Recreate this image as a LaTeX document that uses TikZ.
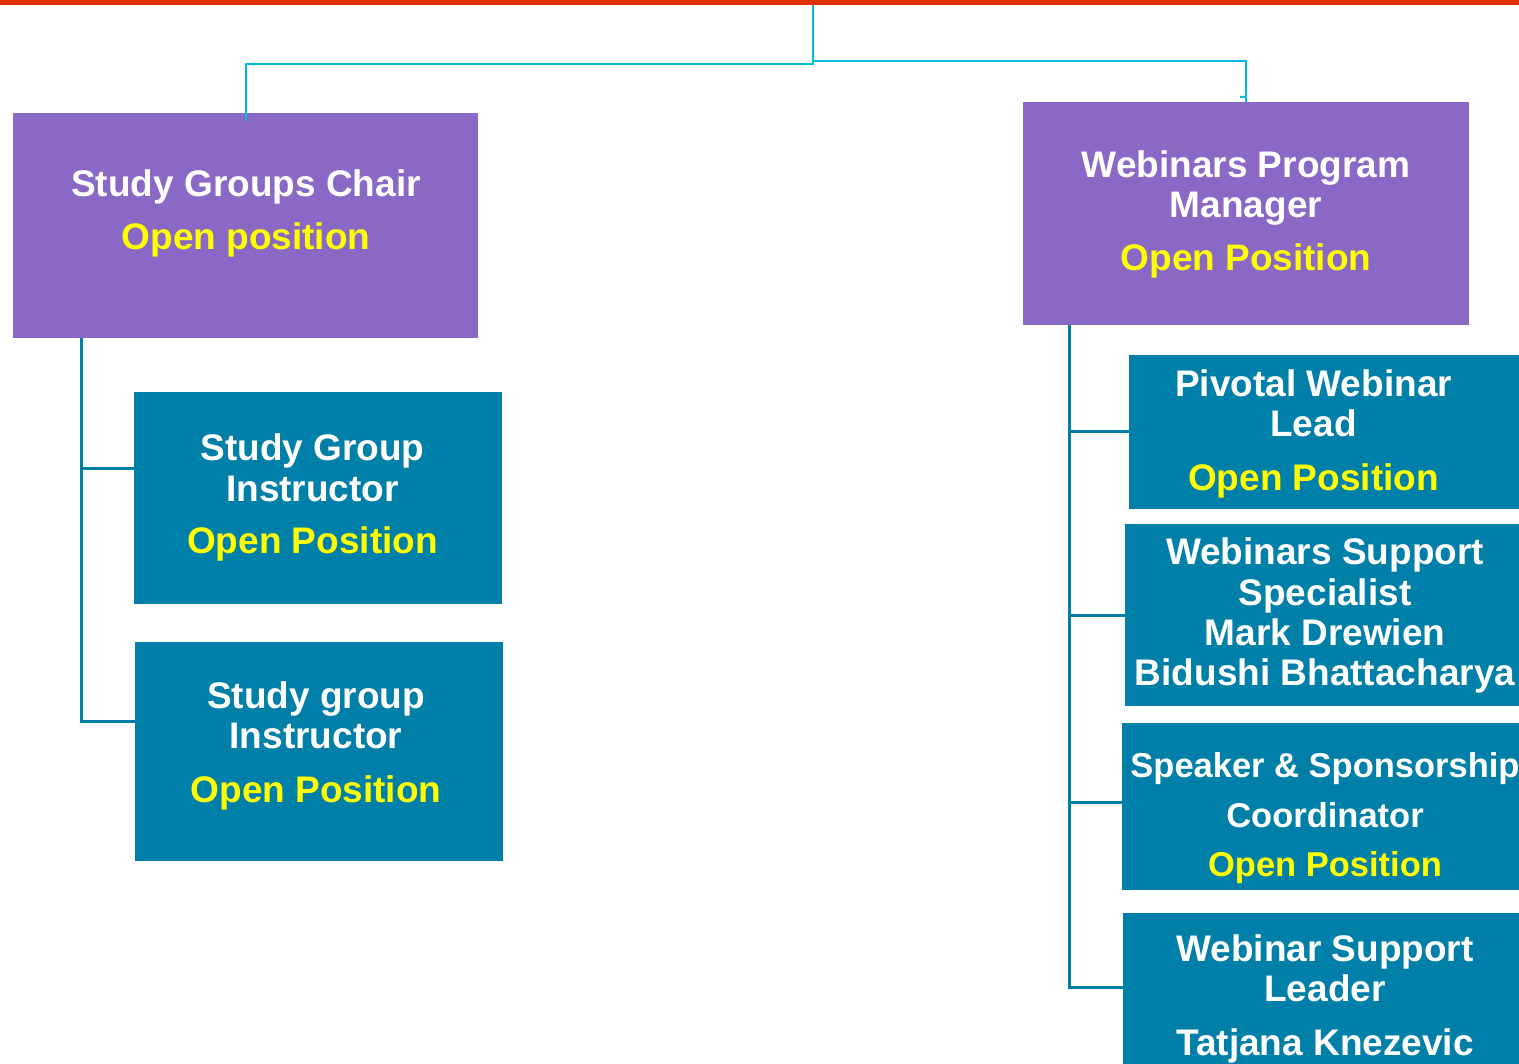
\documentclass[tikz,border=0pt]{standalone}
\usepackage{fontspec}
\setmainfont{Liberation Sans}
\definecolor{redbar}{HTML}{DE3108}
\definecolor{purp}{HTML}{8A68C5}
\definecolor{teal}{HTML}{0080A8}
\definecolor{cyanl}{HTML}{00BCDB}
\definecolor{openy}{HTML}{FFFF00}
\tikzset{
  pbox/.style={draw=none, fill=purp, inner sep=0pt, rectangle},
  tbox/.style={draw=none, fill=teal, inner sep=0pt, rectangle},
  ttl/.style={anchor=base, inner sep=0pt, text=white, font=\bfseries\fontsize{37}{40}\selectfont},
  ttls/.style={anchor=base, inner sep=0pt, text=white, font=\bfseries\fontsize{34.5}{40}\selectfont},
  opn/.style={anchor=base, inner sep=0pt, text=openy, font=\bfseries\fontsize{37}{40}\selectfont},
  opns/.style={anchor=base, inner sep=0pt, text=openy, font=\bfseries\fontsize{34.5}{40}\selectfont},
  cline/.style={draw=cyanl, line width=2pt},
  tline/.style={draw=teal, line width=3pt},
}
\begin{document}
\begin{tikzpicture}[x=1pt, y=-1pt]
\useasboundingbox (0,0) rectangle (1519,1064);
\clip (0,0) rectangle (1519,1064);
\fill[white] (0,0) rectangle (1519,1064);
% red bar
\fill[redbar] (0,0) rectangle (1519,5.5);

% coordinates
\coordinate (top) at (813,5);
\coordinate (lt) at (81,338);
\coordinate (rt) at (1069,325);

% boxes
\node[pbox, minimum width=465pt, minimum height=225pt] (sgc) at (245.5,225.5) {};
\node[pbox, minimum width=446pt, minimum height=223pt] (wpm) at (1246,213.5) {};
\node[tbox, minimum width=368pt, minimum height=212pt] (sgi1) at (318,498) {};
\node[tbox, minimum width=368pt, minimum height=219pt] (sgi2) at (319,751.5) {};
\node[tbox, minimum width=410pt, minimum height=154pt] (pwl) at (1334,432) {};
\node[tbox, minimum width=414pt, minimum height=182pt] (wss) at (1332,615) {};
\node[tbox, minimum width=418pt, minimum height=167pt] (ssc) at (1331,806.5) {};
\node[tbox, minimum width=418pt, minimum height=151pt] (wsl) at (1332,988.5) {};

% connectors
\draw[cline] (top) -- (813,64) -| ([yshift=-8pt]sgc.north);
\draw[cline] (top) -- (813,61) -| (wpm.north);
\draw[cline] (1240,97) -- ([yshift=5pt]wpm.north);
\draw[tline] (sgc.south -| lt) |- ([yshift=29pt]sgi1.west);
\draw[tline] (lt) |- ([yshift=30.5pt]sgi2.west);
\draw[tline] (wpm.south -| rt) |- (pwl.west);
\draw[tline] (rt) |- (wss.west);
\draw[tline] (rt) |- ([yshift=4.5pt]ssc.west);
\draw[tline] (rt) |- ([yshift=1.5pt]wsl.west);

% texts
\node[ttl] (sgcA) at (246,197) {Study Groups Chair};
\node[opn] (sgcB) at (246,250) {Open position};

\node[ttl] (wpmA) at (1246,178) {Webinars Program};
\node[ttl] (wpmB) at (1246,218) {Manager};
\node[opn] (wpmC) at (1246,271) {Open Position};

\node[ttl] (sgi1A) at (312.5,461) {Study Group};
\node[ttl] (sgi1B) at (312.5,501) {Instructor};
\node[opn] (sgi1C) at (312.5,554) {Open Position};

\node[ttl] (sgi2A) at (316,708) {Study group};
\node[ttl] (sgi2B) at (316,748) {Instructor};
\node[opn] (sgi2C) at (316,802) {Open Position};

\node[ttl] (pwlA) at (1313.5,397) {Pivotal Webinar};
\node[ttl] (pwlB) at (1313.5,437) {Lead};
\node[opn] (pwlC) at (1313.5,490) {Open Position};

\node[ttl] (wssA) at (1325,565) {Webinars Support};
\node[ttl] (wssB) at (1325,605) {Specialist};
\node[ttl] (wssC) at (1325,645) {Mark Drewien};
\node[ttl] (wssD) at (1325,685) {Bidushi Bhattacharya};

\node[ttls] (sscA) at (1325,777) {Speaker \& Sponsorship};
\node[ttls] (sscB) at (1325,827) {Coordinator};
\node[opns] (sscC) at (1325,876) {Open Position};

\node[ttl] (wslA) at (1325,961) {Webinar Support};
\node[ttl] (wslB) at (1325,1001) {Leader};
\node[ttl] (wslC) at (1325,1055) {Tatjana Knezevic};
\end{tikzpicture}
\end{document}
